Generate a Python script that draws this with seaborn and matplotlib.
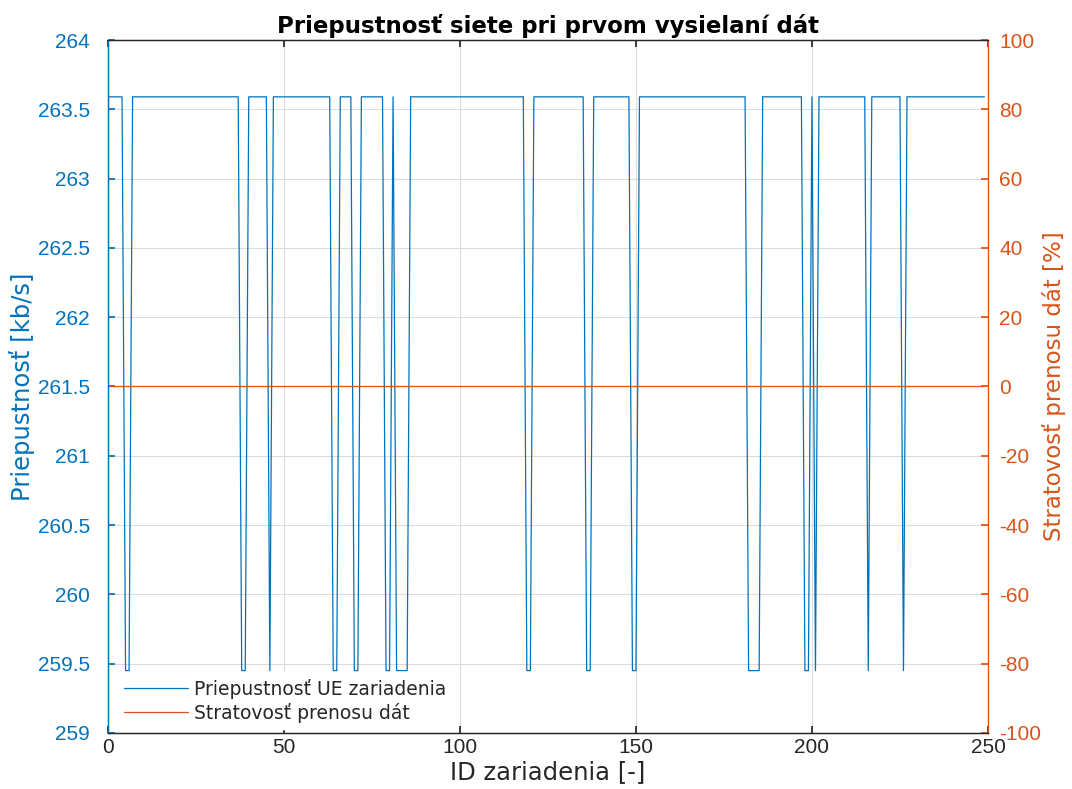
import numpy as np
import pandas as pd
import seaborn as sns
import matplotlib
matplotlib.use("Agg")
import matplotlib.pyplot as plt

sns.set_theme(style="whitegrid")
plt.rcParams['font.family'] = ['DejaVu Sans']
plt.rcParams['axes.unicode_minus'] = False

# device IDs and throughput
device_ids = np.arange(0, 250)
high_rate = 263.59
low_rate = 259.45
low_ids = [5, 6, 38, 39, 46, 64, 65, 70, 71, 79, 80, 82, 83, 84, 85,
           119, 120, 136, 137, 149, 150, 182, 183, 184, 185,
           198, 199, 201, 216, 226]
throughput = np.where(np.isin(device_ids, low_ids), low_rate, high_rate)
loss_pct = np.zeros(len(device_ids))

blue = "#0072BD"
orange = "#D95319"
tick_font = "Liberation Sans"

df = pd.DataFrame({"id": device_ids, "rate": throughput, "loss": loss_pct})

fig = plt.figure(figsize=(10.72, 7.89), dpi=100)
ax = fig.add_axes([0.1007, 0.071, 0.8209, 0.8783])
ax2 = ax.twinx()

sns.lineplot(data=df, x="id", y="rate", ax=ax, color=blue, linewidth=0.9,
             label="Priepustnosť UE zariadenia", legend=False)
sns.lineplot(data=df, x="id", y="loss", ax=ax2, color=orange, linewidth=0.9,
             label="Stratovosť prenosu dát", legend=False)

ax.set_xlim(0, 250)
ax.set_ylim(259, 264)
ax2.set_ylim(-100, 100)
ax.set_xticks(np.arange(0, 251, 50))
ax.set_yticks(np.arange(259, 264.01, 0.5))
ax2.set_yticks(np.arange(-100, 101, 20))
ax.set_yticklabels([f"{v:g}" for v in np.arange(259, 264.01, 0.5)])

ax.set_facecolor("white")
ax.grid(True, color="#dcdcdc", linewidth=0.8)
ax2.grid(False)

for a in (ax, ax2):
    for s in a.spines.values():
        s.set_visible(True)
        s.set_linewidth(0.9)
ax.spines["left"].set_color(blue)
ax.spines["bottom"].set_color("#262626")
ax.spines["top"].set_color("#262626")
ax2.spines["right"].set_color(orange)
ax2.spines["left"].set_color(blue)
ax2.spines["top"].set_color("#262626")
ax2.spines["bottom"].set_color("#262626")

ax.tick_params(axis="y", colors=blue, direction="in", length=5, labelsize=15, left=True, pad=13)
ax.tick_params(axis="x", colors="#262626", direction="in", length=5, labelsize=15, bottom=True, top=True)
ax2.tick_params(axis="y", colors=orange, direction="in", length=5, labelsize=15, right=True, pad=8)
for lbl in ax.get_xticklabels() + ax.get_yticklabels() + ax2.get_yticklabels():
    lbl.set_family(tick_font)

ax.set_xlabel("ID zariadenia [-]", fontsize=17.5, color="#262626", labelpad=2)
ax.set_ylabel("Priepustnosť [kb/s]", fontsize=17.5, color=blue, labelpad=2)
ax2.set_ylabel("Stratovosť prenosu dát [%]", fontsize=16.5, color=orange, labelpad=1)
ax.set_title("Priepustnosť siete pri prvom vysielaní dát", fontsize=16.5, fontweight="bold",
             color="black", pad=5)

h1, l1 = ax.get_legend_handles_labels()
h2, l2 = ax2.get_legend_handles_labels()
leg = ax2.legend(h1 + h2, l1 + l2, loc="lower left", bbox_to_anchor=(0.0, -0.008),
                 fontsize=13.5, frameon=True, facecolor="white", edgecolor="white",
                 framealpha=1, fancybox=False, handlelength=3.4, handletextpad=0.35,
                 borderpad=0.35, labelspacing=0.2)

fig.savefig("out.png", dpi=100)
